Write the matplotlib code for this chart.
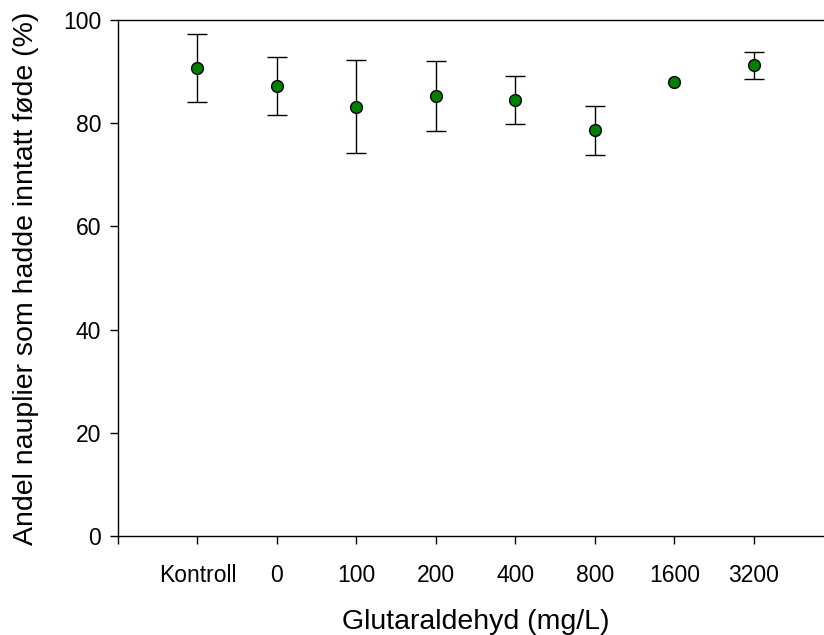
import matplotlib
matplotlib.use("Agg")
import matplotlib.pyplot as plt

plt.rcParams['font.family'] = ['Liberation Sans', 'DejaVu Sans']

# groups and readings (mean and sd, %)
categories = ['Kontroll', '0', '100', '200', '400', '800', '1600', '3200']
means = [90.7, 87.2, 83.2, 85.2, 84.5, 78.6, 88.0, 91.2]
sds = [6.5, 5.6, 9.0, 6.8, 4.7, 4.7, 0.0, 2.6]


def plot_feeding(categories, means, sds):
    """Scatter of mean share of fed nauplii with error bars."""
    fig = plt.figure(figsize=(8.24, 6.35), dpi=100)
    # axes run slightly past the right edge of the figure, like the original
    ax = fig.add_axes([0.1432, 0.156, 0.8683, 0.8125])

    xs = list(range(1, len(categories) + 1))
    # only draw bars where there is a spread
    err_x = [x for x, s in zip(xs, sds) if s > 0]
    err_m = [m for m, s in zip(means, sds) if s > 0]
    err_s = [s for s in sds if s > 0]
    ax.errorbar(err_x, err_m, yerr=err_s, fmt='none', ecolor='black',
                elinewidth=1.0, capsize=7.5, capthick=1.0, zorder=2)
    ax.plot(xs, means, 'o', color='#008000', markeredgecolor='black',
            markeredgewidth=1.0, markersize=8.5, zorder=3)

    ax.set_xlim(0, 9)
    ax.set_ylim(0, 100)
    ax.set_xticks([0] + xs)
    ax.set_xticklabels([''] + categories)
    ax.set_yticks(range(0, 101, 20))

    ax.spines['right'].set_visible(False)
    for sp in ax.spines.values():
        sp.set_linewidth(1.0)
    ax.tick_params(direction='out', length=6, width=1.0, labelsize=16.5, pad=6)
    ax.tick_params(axis='x', pad=14)

    ax.set_xlabel('Glutaraldehyd (mg/L)', fontsize=20.5, labelpad=16)
    ax.set_ylabel('Andel nauplier som hadde inntatt føde (%)', fontsize=20.5, labelpad=17)

    fig.savefig('out.png', dpi=100)


plot_feeding(categories, means, sds)
